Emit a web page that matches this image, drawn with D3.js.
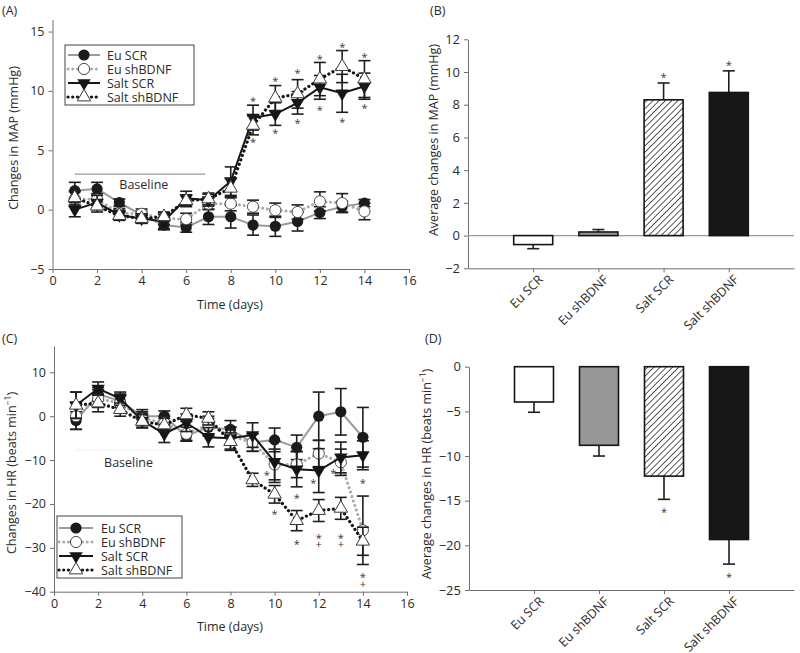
<!DOCTYPE html>
<html><head><meta charset="utf-8">
<script src="https://cdn.jsdelivr.net/npm/d3@7"></script>
<style>
body{margin:0;background:#fff}
svg{display:block}
text{font-family:"Open Sans",sans-serif;fill:#2b2b2b}
</style>
</head><body>
<svg id="c" width="800" height="653"></svg>
<script>
// ---------- data ----------
const days = [1,2,3,4,5,6,7,8,9,10,11,12,13,14];
const groups = ["Eu SCR","Eu shBDNF","Salt SCR","Salt shBDNF"];
const xTicks = [0,2,4,6,8,10,12,14,16];
const yTicksA = [-5,0,5,10,15];
const yTicksB = [-2,0,2,4,6,8,10,12];
const yTicksC = [-40,-30,-20,-10,0,10];
const yTicksD = [-25,-20,-15,-10,-5,0];

// (A) changes in MAP
const mapEuSCR      = [1.6, 1.75, 0.6, -0.45, -1.3, -1.5, -0.6, -0.6, -1.3, -1.4, -1.0, -0.25, 0.25, 0.55];
const mapEuSCRErr   = [0.7, 0.55, 0.3, 0.3, 0.4, 0.4, 0.65, 0.95, 0.85, 0.85, 0.8, 0.5, 0.45, 0.3];
const mapEuSh       = [0.9, 0.85, -0.3, -0.35, -0.75, -0.8, 0.5, 0.5, 0.25, -0.05, -0.2, 0.7, 0.55, -0.15];
const mapEuShErr    = [0.6, 0.5, 0.4, 0.4, 0.5, 0.5, 0.5, 0.6, 0.55, 0.6, 0.6, 0.8, 0.8, 0.7];
const mapSaltSCR    = [0.0, 0.6, -0.45, -0.75, -1.0, 0.95, 0.8, 2.4, 7.75, 8.05, 9.0, 10.3, 9.8, 10.4];
const mapSaltSCRErr = [0.6, 0.6, 0.4, 0.4, 0.6, 0.6, 0.5, 1.2, 1.05, 0.95, 0.95, 1.0, 1.6, 1.1];
const mapSaltSh     = [1.0, 0.3, -0.5, -0.75, -0.6, 0.75, 0.9, 1.8, 7.1, 9.4, 9.75, 11.0, 12.05, 11.0];
const mapSaltShErr  = [0.6, 0.5, 0.4, 0.4, 0.4, 0.5, 0.5, 0.8, 0.8, 1.05, 1.2, 1.4, 1.35, 1.55];
const starDaysA     = [9, 10, 11, 12, 13, 14];
const starTopA      = [9.3, 11.0, 11.65, 12.9, 13.9, 13.06];
const starBottomA   = [5.9, 6.65, 7.44, 8.57, 7.52, 8.7];

// (B) average changes in MAP
const mapAvg    = [-0.55, 0.22, 8.3, 8.75];
const mapAvgErr = [0.25, 0.15, 1.03, 1.32];
const mapAvgSig = [false, false, true, true];

// (C) changes in HR
const hrEuSCR      = [-1, 5, 3.5, 0, 0, -4.5, -2.5, -3, -6, -5.4, -7.1, 0, 1.0, -4.8];
const hrEuSCRErr   = [2, 1.5, 1.5, 1.5, 1.2, 1.2, 2, 2, 2, 2.7, 2.8, 5.5, 5.3, 6.8];
const hrEuSh       = [0, 4, 3, -0.5, -1.5, -4, -2, -4.5, -6, -11, -11, -8.5, -10.5, -26];
const hrEuShErr    = [3, 2, 2, 1.5, 1.5, 1.5, 2, 2, 2, 3.5, 3, 3, 3, 7.8];
const hrSaltSCR    = [2.5, 6.3, 4, -1, -4, -1.5, -4.8, -5, -4.3, -10.4, -12.1, -12.4, -9.4, -8.9];
const hrSaltSCRErr = [3, 1.5, 1.5, 1.5, 2, 2, 2.2, 2.5, 2.8, 4.7, 4, 5, 3.5, 3.3];
const hrSaltSh     = [2.5, 3, 1.5, -1.2, -2, 0.3, -0.5, -5.8, -14.5, -17.8, -23.8, -21.5, -21, -28.5];
const hrSaltShErr  = [3, 2, 1.5, 1.5, 1.5, 1.5, 1.5, 2, 1.5, 2, 2.3, 2.5, 2.5, 3.2];
const starDaysC    = [9.64, 10, 11, 11, 11.75, 12, 12.66, 13, 14, 14];
const starValsC    = [-12.9, -21.8, -18.2, -28.7, -14.7, -27.3, -12.6, -27.3, -14.7, -36.2];
const starSymsC    = ["*","*","*","*","*","*+","*","*+","*","*+"];

// (D) average changes in HR
const hrAvg    = [-3.95, -8.8, -12.25, -19.35];
const hrAvgErr = [1.15, 1.2, 2.6, 2.75];
const hrAvgSig = [false, false, true, true];

// ---------- styles ----------
const seriesStyle = {
  "Eu SCR":      {stroke:"#9b9b9b", width:2,   dash:null,      marker:"fc"},
  "Eu shBDNF":   {stroke:"#ababab", width:3,   dash:"0.1,4.6", marker:"oc"},
  "Salt SCR":    {stroke:"#151515", width:2,   dash:null,      marker:"dt"},
  "Salt shBDNF": {stroke:"#151515", width:3.2, dash:"0.1,4.6", marker:"ut"}
};
const barFill = ["#ffffff","#979797","url(#hatch)","#171717"];
const axisCol = "#6e6e6e";
const errCol = "#1e1e1e";
const markCol = "#3a3a3a";

const svg = d3.select("#c");
const defs = svg.append("defs");
const pat = defs.append("pattern").attr("id","hatch").attr("patternUnits","userSpaceOnUse")
  .attr("width",4.4).attr("height",4.4).attr("patternTransform","rotate(45)");
pat.append("rect").attr("width",4.4).attr("height",4.4).attr("fill","#fff");
pat.append("line").attr("x1",0).attr("y1",0).attr("x2",0).attr("y2",4.4)
  .attr("stroke","#111").attr("stroke-width",1.4);

function drawMarker(g, type, cx, cy){
  if(type==="fc"){
    g.append("circle").attr("cx",cx).attr("cy",cy).attr("r",5.6).attr("fill","#1b1b1b");
  } else if(type==="oc"){
    g.append("circle").attr("cx",cx).attr("cy",cy).attr("r",5.6).attr("fill","#fff")
      .attr("stroke","#4a4a4a").attr("stroke-width",1);
  } else if(type==="dt"){
    g.append("path").attr("d",d3.symbol(d3.symbolTriangle,78)())
      .attr("transform",`translate(${cx},${cy}) rotate(180)`).attr("fill","#151515");
  } else {
    g.append("path").attr("d",d3.symbol(d3.symbolTriangle,78)())
      .attr("transform",`translate(${cx},${cy})`).attr("fill","#fff")
      .attr("stroke","#3a3a3a").attr("stroke-width",1);
  }
}

function styleAxis(g, fs){
  g.attr("font-size",fs);
  g.selectAll("path.domain").attr("stroke",axisCol).attr("stroke-width",1);
  g.selectAll(".tick line").attr("stroke",axisCol);
}

function sigMark(g, cx, cy, sym){
  const t = g.append("text").attr("text-anchor","middle").attr("font-size",11).style("fill",markCol);
  t.append("tspan").attr("x",cx).attr("y",cy+6).text("*");
  if(sym.indexOf("+")>=0){
    t.append("tspan").attr("x",cx).attr("y",cy+12.5).text("+");
  }
}

function linePanel(o){
  const g = svg.append("g");
  const x = d3.scaleLinear().domain([0,16]).range(o.xr);
  const y = d3.scaleLinear().domain(o.yd).range(o.yr);
  const ax = g.append("g").attr("transform",`translate(0,${y(o.yd[0])})`)
    .call(d3.axisBottom(x).tickValues(xTicks).tickSize(4).tickPadding(3).tickSizeOuter(0));
  styleAxis(ax, 12.5);
  const ay = g.append("g").attr("transform",`translate(${x(0)},0)`)
    .call(d3.axisLeft(y).tickValues(o.yTicks).tickSize(4).tickPadding(4).tickSizeOuter(0));
  styleAxis(ay, 12.5);

  // baseline annotation
  g.append("line").attr("x1",x(1)).attr("x2",x(o.baseEnd)).attr("y1",y(o.baseVal)).attr("y2",y(o.baseVal))
    .attr("stroke",o.baseCol).attr("stroke-width",1.2);
  g.append("text").attr("x",x(o.baseTextDay)).attr("y",y(o.baseTextVal)).attr("text-anchor","middle")
    .attr("dominant-baseline","central").attr("font-size",12.5).text("Baseline");

  const line = d3.line().x(d=>x(d.day)).y(d=>y(d.v));
  o.series.forEach(s=>{
    const st = seriesStyle[s.name];
    const pts = days.map((d,i)=>({day:d, v:s.vals[i], e:s.errs[i]}));
    const sg = g.append("g");
    const p = sg.append("path").datum(pts).attr("d",line).attr("fill","none")
      .attr("stroke",st.stroke).attr("stroke-width",st.width);
    if(st.dash){ p.attr("stroke-dasharray",st.dash).attr("stroke-linecap","round"); }
    pts.forEach(d=>{
      const cx = x(d.day);
      sg.append("line").attr("x1",cx).attr("x2",cx).attr("y1",y(d.v-d.e)).attr("y2",y(d.v+d.e))
        .attr("stroke",errCol).attr("stroke-width",1.6);
      [d.v-d.e, d.v+d.e].forEach(v=>{
        sg.append("line").attr("x1",cx-6).attr("x2",cx+6).attr("y1",y(v)).attr("y2",y(v))
          .attr("stroke",errCol).attr("stroke-width",1.6);
      });
    });
    pts.forEach(d=>drawMarker(sg, st.marker, x(d.day), y(d.v)));
  });

  // significance marks
  o.stars.forEach(s=>sigMark(g, x(s.day), y(s.v), s.sym));

  // legend
  const L = o.legend;
  const lg = g.append("g");
  lg.append("rect").attr("x",L.x0).attr("y",L.y0).attr("width",L.w).attr("height",L.h)
    .attr("fill","#fff").attr("stroke","#444").attr("stroke-width",1);
  groups.forEach((name,i)=>{
    const st = seriesStyle[name];
    const yy = L.rows[i];
    const ln = lg.append("line").attr("x1",L.lx1).attr("x2",L.lx2).attr("y1",yy).attr("y2",yy)
      .attr("stroke",st.stroke).attr("stroke-width",st.width);
    if(st.dash){ ln.attr("stroke-dasharray",st.dash).attr("stroke-linecap","round"); }
    drawMarker(lg, st.marker, L.mx, yy);
    lg.append("text").attr("x",L.tx).attr("y",yy).attr("dominant-baseline","central")
      .attr("font-size",12.5).text(name);
  });

  // axis titles
  g.append("text").attr("x",o.xLabelPos[0]).attr("y",o.xLabelPos[1]).attr("text-anchor","middle")
    .attr("font-size",12.5).text("Time (days)");
  return {g, x, y};
}

function barPanel(o){
  const g = svg.append("g");
  const x = d3.scalePoint().domain(groups).range(o.xr).padding(1);
  const y = d3.scaleLinear().domain(o.yd).range(o.yr);
  const ax = g.append("g").attr("transform",`translate(0,${y(o.yd[0])})`)
    .call(d3.axisBottom(x).tickSize(4).tickSizeOuter(0));
  styleAxis(ax, 13);
  ax.selectAll(".tick text").remove();
  ax.selectAll(".tick").append("text").attr("transform","translate(7,9) rotate(-45)")
    .attr("text-anchor","end").attr("dy","0.35em").attr("font-size",12.5).attr("fill",null)
    .text(d=>d);
  const ay = g.append("g").attr("transform",`translate(${o.xr[0]},0)`)
    .call(d3.axisLeft(y).tickValues(o.yTicks).tickSize(4).tickPadding(4).tickSizeOuter(0));
  styleAxis(ay, 13);
  if(o.zeroLine){
    g.append("line").attr("x1",o.xr[0]).attr("x2",o.xr[1]).attr("y1",y(0)).attr("y2",y(0))
      .attr("stroke","#9a9a9a").attr("stroke-width",1.2);
  }
  const bw = 39;
  groups.forEach((name,i)=>{
    const v = o.vals[i], e = o.errs[i], cx = x(name);
    const sgn = v>=0 ? 1 : -1;
    const tip = y(v + sgn*e);
    g.append("line").attr("x1",cx).attr("x2",cx).attr("y1",y(v)).attr("y2",tip)
      .attr("stroke",errCol).attr("stroke-width",1.6);
    g.append("line").attr("x1",cx-6).attr("x2",cx+6).attr("y1",tip).attr("y2",tip)
      .attr("stroke",errCol).attr("stroke-width",1.6);
    g.append("rect").attr("x",cx-bw/2).attr("width",bw)
      .attr("y",Math.min(y(0),y(v))).attr("height",Math.abs(y(v)-y(0)))
      .attr("fill",barFill[i]).attr("stroke","#151515").attr("stroke-width",1.6);
    if(o.sig[i]){ sigMark(g, cx, tip - sgn*o.starGap, "*"); }
  });
  return {g,x,y};
}

// ---------- panels ----------
linePanel({
  xr:[52.5,409], yd:[-5,16], yr:[269,19.7], yTicks:yTicksA,
  baseEnd:6.85, baseVal:3.0, baseCol:"#9a9a9a", baseTextDay:4.1, baseTextVal:2.1,
  series:[
    {name:"Eu SCR", vals:mapEuSCR, errs:mapEuSCRErr},
    {name:"Eu shBDNF", vals:mapEuSh, errs:mapEuShErr},
    {name:"Salt SCR", vals:mapSaltSCR, errs:mapSaltSCRErr},
    {name:"Salt shBDNF", vals:mapSaltSh, errs:mapSaltShErr}
  ],
  stars: starDaysA.map((d,i)=>({day:d, v:starTopA[i], sym:"*"}))
    .concat(starDaysA.map((d,i)=>({day:d, v:starBottomA[i], sym:"*"}))),
  legend:{x0:65, y0:45, w:129, h:60, rows:[55,69,83,97], lx1:68, lx2:100, mx:84, tx:107},
  xLabelPos:[230,309]
});

linePanel({
  xr:[54,407], yd:[-40,16], yr:[591.7,346], yTicks:yTicksC,
  baseEnd:7.8, baseVal:-7.7, baseCol:"#efefef", baseTextDay:3.38, baseTextVal:-10.5,
  series:[
    {name:"Eu SCR", vals:hrEuSCR, errs:hrEuSCRErr},
    {name:"Eu shBDNF", vals:hrEuSh, errs:hrEuShErr},
    {name:"Salt SCR", vals:hrSaltSCR, errs:hrSaltSCRErr},
    {name:"Salt shBDNF", vals:hrSaltSh, errs:hrSaltShErr}
  ],
  stars: starDaysC.map((d,i)=>({day:d, v:starValsC[i], sym:starSymsC[i]})),
  legend:{x0:57, y0:516, w:125, h:62, rows:[528,542,556,570], lx1:59, lx2:93, mx:76, tx:101},
  xLabelPos:[230,631]
});

barPanel({xr:[468,794], yd:[-2,12], yr:[268.3,39.3], yTicks:yTicksB, zeroLine:true,
  vals:mapAvg, errs:mapAvgErr, sig:mapAvgSig, starGap:8});
barPanel({xr:[469,794], yd:[-25,0], yr:[590,366.7], yTicks:yTicksD, zeroLine:false,
  vals:hrAvg, errs:hrAvgErr, sig:hrAvgSig, starGap:11});

// ---------- titles ----------
function vLabel(cx, cy, parts){
  const t = svg.append("text").attr("transform",`translate(${cx},${cy}) rotate(-90)`)
    .attr("text-anchor","middle").attr("dominant-baseline","central").attr("font-size",12.5);
  parts.forEach(p=>{
    const ts = t.append("tspan").text(p.t);
    if(p.sup){ ts.attr("font-size",8.5).attr("dy",-4); }
    if(p.down){ ts.attr("dy",4); }
  });
}
vLabel(13, 138, [{t:"Changes in MAP (mmHg)"}]);
vLabel(433, 140, [{t:"Average changes in MAP (mmHg)"}]);
vLabel(11, 473, [{t:"Changes in HR (beats min"},{t:"−1",sup:true},{t:")",down:true}]);
vLabel(426, 474, [{t:"Average changes in HR (beats min"},{t:"−1",sup:true},{t:")",down:true}]);

[["(A)",2,15],["(B)",430,15],["(C)",2,343],["(D)",425,343]].forEach(l=>{
  svg.append("text").attr("x",l[1]).attr("y",l[2]).attr("font-size",12.5).text(l[0]);
});
</script>
</body></html>
